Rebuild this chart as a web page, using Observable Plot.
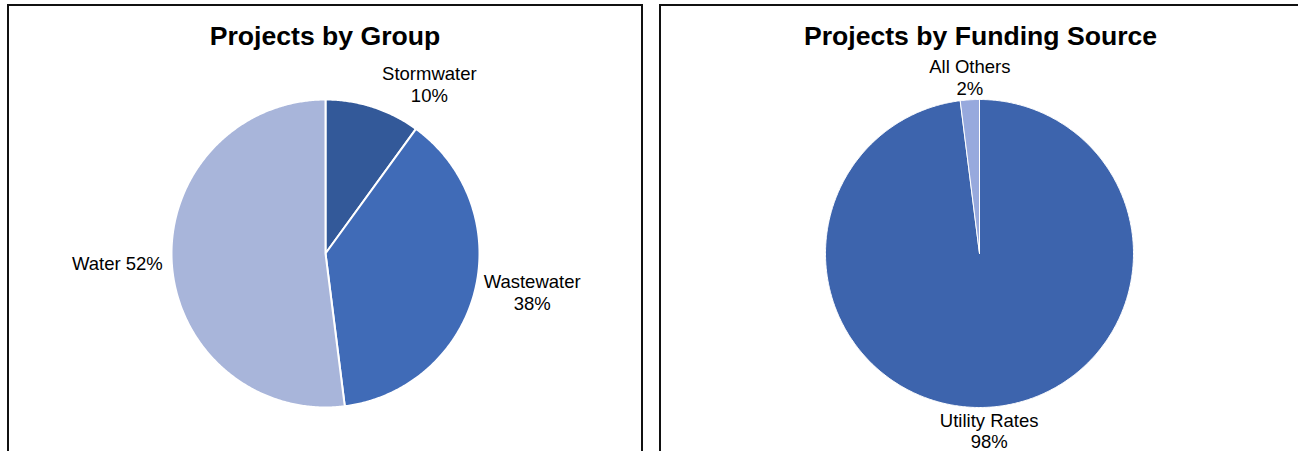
<!DOCTYPE html>
<html><head><meta charset="utf-8">
<script src="https://cdn.jsdelivr.net/npm/d3@7"></script>
<script src="https://cdn.jsdelivr.net/npm/@observablehq/plot@0.6"></script>
<style>
body{margin:0;background:#fff;}
#wrap{position:relative;width:1298px;height:451px;overflow:hidden;background:#fff;font-family:"Liberation Sans",Arial,sans-serif;}
.panel{position:absolute;top:4px;height:480px;border:2px solid #111;box-sizing:border-box;}
#p1{left:7px;width:636px;}
#p2{left:659px;width:700px;}
.chart{position:absolute;top:0;}
#c1{left:0;width:649px;}
#c2{left:656px;width:648px;}
</style></head><body>
<div id="wrap"><div class="panel" id="p1"></div><div class="panel" id="p2"></div><div class="chart" id="c1"></div><div class="chart" id="c2"></div></div>
<script>
// ---- data ----
const groupTitle = "Projects by Group";
const groupNames = ["Stormwater", "Wastewater", "Water"];
const groupValues = [10, 38, 52];
const groupSep = ["\n", "\n", " "];
const groupColors = ["#335999", "#406bb7", "#a8b5da"];

const fundingTitle = "Projects by Funding Source";
const fundingNames = ["Utility Rates", "All Others"];
const fundingValues = [98, 2];
const fundingSep = ["\n", "\n"];
const fundingColors = ["#3d64ad", "#97a9dd"];

const FONT = '"Liberation Sans", Arial, sans-serif';
const FS = 18.5;
const GAP = 9;

function pieChart({title, names, values, seps, colors, width, cx, cy, r, strokeWidth}) {
  const total = d3.sum(values);
  let acc = 0;
  const slices = names.map((n, i) => {
    const a0 = acc / total * 2 * Math.PI;
    acc += values[i];
    const a1 = acc / total * 2 * Math.PI;
    return {name: n, value: values[i], a0, a1};
  });
  const pts = [];
  for (const s of slices) {
    pts.push({name: s.name, x: 0, y: 0});
    const steps = Math.max(2, Math.ceil((s.a1 - s.a0) / (Math.PI / 360)));
    for (let k = 0; k <= steps; k++) {
      const a = s.a0 + (s.a1 - s.a0) * k / steps;
      pts.push({name: s.name, x: Math.sin(a), y: Math.cos(a)});
    }
    pts.push({name: s.name, x: 0, y: 0});
  }
  const ctx = document.createElement("canvas").getContext("2d");
  ctx.font = `${FS}px ${FONT}`;
  const labels = slices.map((s, i) => {
    const m = (s.a0 + s.a1) / 2, sx = Math.sin(m), cyv = Math.cos(m);
    const text = `${s.name}${seps[i]}${s.value}%`;
    const w = d3.max(text.split("\n"), t => ctx.measureText(t).width);
    const h = Math.abs(sx) < 0.25 ? "middle" : sx > 0 ? "start" : "end";
    const v = cyv > 0.5 ? "bottom" : cyv < -0.5 ? "top" : "middle";
    const ox = h === "start" ? GAP + w / 2 : h === "end" ? -(GAP + w / 2) : 0;
    const oy = v === "bottom" ? 5 : v === "top" ? -4 : 0;
    return {text, v, x: sx + ox / r, y: cyv + oy / r};
  });
  return Plot.plot({
    width, height: 451, margin: 0,
    style: {background: "transparent", fontFamily: FONT},
    x: {domain: [-1, 1], range: [cx - r, cx + r], axis: null},
    y: {domain: [-1, 1], range: [cy + r, cy - r], axis: null},
    color: {domain: names, range: colors},
    marks: [
      Plot.line(pts, {x: "x", y: "y", z: "name", fill: "name", stroke: "white", strokeWidth, strokeLinejoin: "round"}),
      ...["top", "middle", "bottom"].map(v =>
        Plot.text(labels.filter(d => d.v === v), {x: "x", y: "y", text: "text", lineAnchor: v, textAnchor: "middle", fontSize: FS, lineHeight: 1.17, fill: "#000"})
      ),
      Plot.text([title], {frameAnchor: "top", text: d => d, lineAnchor: "bottom", dy: 44.5, fontSize: 26.6, fontWeight: "bold", fill: "#000"})
    ]
  });
}

document.getElementById("c1").append(pieChart({
  title: groupTitle, names: groupNames, values: groupValues, seps: groupSep, colors: groupColors,
  width: 649, cx: 325, cy: 253, r: 154, strokeWidth: 2
}));
document.getElementById("c2").append(pieChart({
  title: fundingTitle, names: fundingNames, values: fundingValues, seps: fundingSep, colors: fundingColors,
  width: 648, cx: 323, cy: 253, r: 154, strokeWidth: 1
}));
</script>
</body></html>
